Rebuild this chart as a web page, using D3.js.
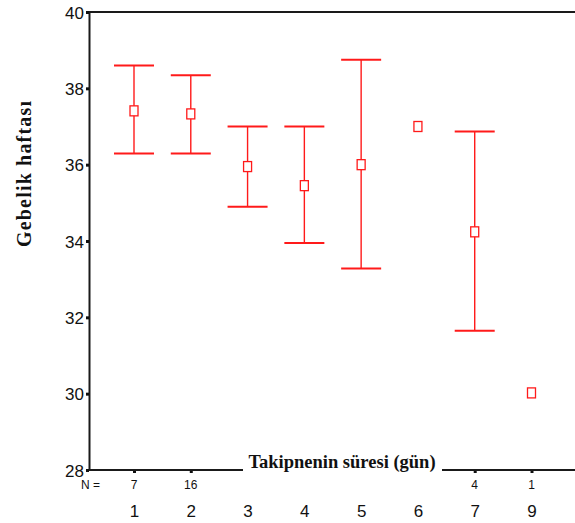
<!DOCTYPE html>
<html>
<head>
<meta charset="utf-8">
<script src="https://cdn.jsdelivr.net/npm/d3@7"></script>
<style>
  html, body { margin: 0; padding: 0; background: #fff; }
  svg { display: block; }
</style>
</head>
<body>
<svg id="chart" width="575" height="523"></svg>
<script>
// ---- data ----
const categories = ["1", "2", "3", "4", "5", "6", "7", "9"];
const meanValues = [37.41, 37.33, 35.95, 35.45, 36.0, 37.0, 34.24, 30.02];
const upperValues = [38.60, 38.34, 37.0, 37.0, 38.75, null, 36.87, null];
const lowerValues = [36.29, 36.29, 34.90, 33.95, 33.28, null, 31.65, null];
const nCounts = ["7", "16", null, null, null, null, "4", "1"];
const yTicks = [28, 30, 32, 34, 36, 38, 40];
const xTitle = "Takipnenin süresi (gün)";
const yTitle = "Gebelik haftası";

(function () {
const svg = d3.select("#chart");
const pLeft = 89, pRight = 576, pTop = 12, pBottom = 470;
const red = "#ff1a1a", axisCol = "#1a1a1a";

const y = d3.scaleLinear().domain([28, 40]).range([pBottom, pTop]);
const x = d3.scalePoint().domain(categories).range([134, 531.5]);

// frame top line
svg.append("line").attr("x1", pLeft).attr("x2", pRight).attr("y1", pTop).attr("y2", pTop)
  .attr("stroke", axisCol).attr("stroke-width", 2);

// y axis
const yAxis = d3.axisLeft(y).tickValues(yTicks).tickSize(0).tickPadding(5).tickFormat(d3.format("d"));
const gy = svg.append("g").attr("transform", `translate(${pLeft},0)`).call(yAxis);
gy.select(".domain").attr("stroke", axisCol).attr("stroke-width", 2);
gy.selectAll(".tick text").attr("font-family", "Liberation Sans, Arial, sans-serif")
  .attr("font-size", 17).attr("fill", "#111").attr("dy", "0.36em");
gy.selectAll(".tick").append("rect").attr("x", -3).attr("y", -1.5).attr("width", 3).attr("height", 3).attr("fill", "#111");

// x axis
const xAxis = d3.axisBottom(x).tickSize(0).tickPadding(35);
const gx = svg.append("g").attr("transform", `translate(0,${pBottom})`).call(xAxis);
gx.select(".domain").remove();
gx.append("line").attr("x1", pLeft).attr("x2", pRight).attr("y1", 0).attr("y2", 0)
  .attr("stroke", axisCol).attr("stroke-width", 2);
gx.selectAll(".tick text").attr("font-family", "Liberation Sans, Arial, sans-serif")
  .attr("font-size", 17).attr("fill", "#111").attr("dy", "0.71em");
gx.selectAll(".tick").append("rect").attr("x", -1.5).attr("y", 0).attr("width", 3).attr("height", 3).attr("fill", "#111");

// N row
svg.append("text").attr("x", 81).attr("y", 489).text("N =")
  .attr("font-family", "Liberation Sans, Arial, sans-serif").attr("font-size", 12).attr("fill", "#111");
svg.selectAll("text.ncount").data(categories.map((c, i) => ({c, n: nCounts[i]})).filter(d => d.n !== null))
  .join("text").attr("class", "ncount")
  .attr("x", d => x(d.c)).attr("y", 489).attr("text-anchor", "middle")
  .attr("font-family", "Liberation Sans, Arial, sans-serif").attr("font-size", 12).attr("fill", "#111")
  .text(d => d.n);

// x title with white background
svg.append("rect").attr("x", 243).attr("y", 448).attr("width", 199).attr("height", 35).attr("fill", "#fff");
svg.append("text").attr("x", 342).attr("y", 468).attr("text-anchor", "middle")
  .attr("font-family", "Liberation Serif, Times New Roman, serif").attr("font-weight", "bold")
  .attr("font-size", 18.5).attr("fill", "#111").text(xTitle);

// y title
svg.append("text").attr("transform", "translate(31,174) rotate(-90)").attr("text-anchor", "middle")
  .attr("font-family", "Liberation Serif, Times New Roman, serif").attr("font-weight", "bold")
  .attr("font-size", 20).attr("fill", "#111")
  .attr("textLength", 146).attr("lengthAdjust", "spacing").text(yTitle);

// error bars
const data = categories.map((c, i) => ({c, m: meanValues[i], hi: upperValues[i], lo: lowerValues[i]}));
const bars = data.filter(d => d.hi !== null);
const capW = 20;
const g = svg.append("g");
g.selectAll("line.v").data(bars).join("line").attr("class", "v")
  .attr("x1", d => x(d.c)).attr("x2", d => x(d.c)).attr("y1", d => y(d.hi)).attr("y2", d => y(d.lo))
  .attr("stroke", red).attr("stroke-width", 1.4);
g.selectAll("line.capHi").data(bars).join("line").attr("class", "capHi")
  .attr("x1", d => x(d.c) - capW).attr("x2", d => x(d.c) + capW).attr("y1", d => y(d.hi)).attr("y2", d => y(d.hi))
  .attr("stroke", red).attr("stroke-width", 2);
g.selectAll("line.capLo").data(bars).join("line").attr("class", "capLo")
  .attr("x1", d => x(d.c) - capW).attr("x2", d => x(d.c) + capW).attr("y1", d => y(d.lo)).attr("y2", d => y(d.lo))
  .attr("stroke", red).attr("stroke-width", 2);
g.selectAll("rect.m").data(data).join("rect").attr("class", "m")
  .attr("x", d => x(d.c) - 4).attr("y", d => y(d.m) - 5).attr("width", 8).attr("height", 10)
  .attr("fill", "#fff").attr("stroke", red).attr("stroke-width", 1.3);
})();
</script>
</body>
</html>
